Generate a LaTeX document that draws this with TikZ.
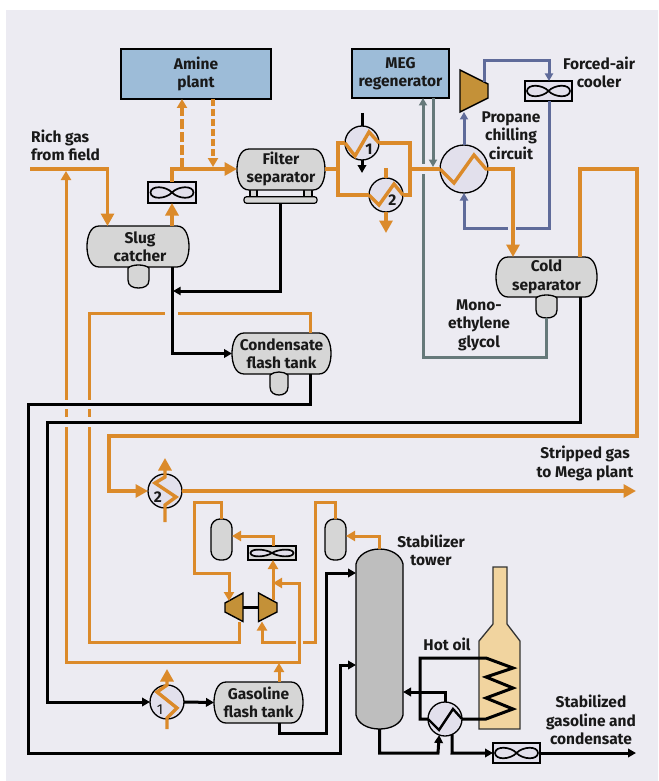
\documentclass[tikz,border=0pt]{standalone}
\usepackage{fontspec}
\setmainfont{Fira Sans}
\usetikzlibrary{arrows.meta,calc}
\definecolor{bgc}{HTML}{ECEBF2}
\definecolor{org}{HTML}{DB8A2A}
\definecolor{blu}{HTML}{5F6B9A}
\definecolor{gry}{HTML}{66797A}
\definecolor{box}{HTML}{9DBCD8}
\definecolor{ves}{HTML}{D6D6D6}
\definecolor{twr}{HTML}{BEBEBE}
\definecolor{hxf}{HTML}{E2E0EC}
\definecolor{cmp}{HTML}{C49138}
\definecolor{fur}{HTML}{F1D49F}
\tikzset{
 lbl/.style={font=\bfseries\fontsize{15.5}{18.5}\selectfont,align=center,text=black!90,inner sep=0pt},
 plantbox/.style={draw=black,line width=1.4pt,fill=box,inner sep=0pt,outer sep=0pt,lbl},
 vnode/.style={inner sep=0pt,outer sep=0pt,lbl},
 outl/.style={draw=black,line width=1.3pt,fill=ves},
 hx/.style={circle,draw=black,line width=1.3pt,fill=hxf,inner sep=0pt,outer sep=0pt,minimum size=34pt},
 bighx/.style={hx,minimum size=48pt},
 fanbox/.style={draw=black,line width=1.3pt,fill=ves,inner sep=0pt,outer sep=0pt},
 oL/.style={draw=org,line width=3.4pt,miter limit=10},
 oM/.style={draw=org,line width=3pt},
 kL/.style={draw=black,line width=3pt},
 bL/.style={draw=blu,line width=3pt},
 gL/.style={draw=gry,line width=3pt},
 tipL/.style={-{Triangle[length=12.5pt,width=13pt]}},
 tipM/.style={-{Triangle[length=9pt,width=10pt]}},
 tipS/.style={-{Triangle[length=7.5pt,width=8pt]}},
 tipK/.style={-{Triangle[length=8pt,width=8.5pt]}},
 gapf/.style={fill=bgc,draw=none},
}
\newcommand\tankbody[4]{% x0 y0 x1 y1
 \draw[outl] ({#1+12},#2) -- ({#3-12},#2)
  .. controls ({#3-3},#2) and (#3,{(#2+#4)/2-9}) .. (#3,{(#2+#4)/2})
  .. controls (#3,{(#2+#4)/2+9}) and ({#3-3},#4) .. ({#3-12},#4)
  -- ({#1+12},#4)
  .. controls ({#1+3},#4) and (#1,{(#2+#4)/2+9}) .. (#1,{(#2+#4)/2})
  .. controls (#1,{(#2+#4)/2-9}) and ({#1+3},#2) .. ({#1+12},#2) -- cycle;}
\newcommand\bootshape[4]{% x0 y0 x1 y1
 \draw[outl] (#1,{#2+3}) .. controls ({#1+4},{#2-1}) and ({#3-4},{#2-1}) .. (#3,{#2+3})
  -- (#3,{#4-8}) .. controls (#3,{#4-2}) and ({#3-5},#4) .. ({(#1+#3)/2},#4)
  .. controls ({#1+5},#4) and (#1,{#4-2}) .. (#1,{#4-8}) -- cycle;}
\newcommand\fanfig[3]{% cx cy halfheight-of-lobe
 \draw[draw=black,line width=1.7pt,fill=hxf]
  (#1,#2) .. controls ({#1-6},{#2-#3}) and ({#1-21},{#2-#3-1}) .. ({#1-21.5},#2)
  .. controls ({#1-21},{#2+#3+1}) and ({#1-6},{#2+#3}) .. (#1,#2)
  .. controls ({#1+6},{#2-#3}) and ({#1+21},{#2-#3-1}) .. ({#1+21.5},#2)
  .. controls ({#1+21},{#2+#3+1}) and ({#1+6},{#2+#3}) .. (#1,#2) -- cycle;}
\begin{document}
\begin{tikzpicture}[x=1pt,y=-1pt]
\useasboundingbox (0,0) rectangle (658,781);
\fill[white] (0,0) rectangle (658,781);
\fill[bgc] (6,10) rectangle (658,781);

% --- plant boxes
\node[plantbox,minimum width=150pt,minimum height=50pt] (amine) at (196,74) {Amine\\plant};
\node[plantbox,minimum width=97pt,minimum height=49pt] (meg) at (400.5,73.5) {MEG\\regenerator};

% --- vessels
\tankbody{87}{226}{189}{267}
\bootshape{128}{265}{149}{288}
\node[vnode,minimum width=98pt,minimum height=41pt] (slug) at (140,246.5) {Slug\\catcher};

\draw[outl,line width=1.2pt] (250,189) rectangle (257,198);
\draw[outl,line width=1.2pt] (304,189) rectangle (312,198);
\node[draw=black,line width=1.2pt,fill=ves,rounded corners=2.5pt,inner sep=0pt,outer sep=0pt,minimum width=73pt,minimum height=6.5pt] (fbase) at (280.5,200) {};
\tankbody{237}{149}{325}{190}
\node[vnode,minimum width=88pt,minimum height=41pt] (filt) at (281,169) {Filter\\separator};

\tankbody{232}{333}{331}{374}
\bootshape{270}{372}{288}{395}
\node[vnode,minimum width=99pt,minimum height=41pt] (cond) at (281.5,353.5) {Condensate\\flash tank};

\tankbody{496}{257}{597}{297}
\bootshape{536}{295}{557}{318}
\node[vnode,minimum width=101pt,minimum height=40pt] (cold) at (546.5,277) {Cold\\separator};
\coordinate (coldboot) at (546.5,318);

\tankbody{214}{682}{303}{723}
\node[vnode,minimum width=89pt,minimum height=41pt] (gast) at (258.5,702.5) {Gasoline\\flash tank};

\node[outl,rounded corners=9pt,inner sep=0pt,outer sep=0pt,minimum width=21pt,minimum height=41pt] (vesl) at (221.5,539.5) {};
\node[outl,rounded corners=9pt,inner sep=0pt,outer sep=0pt,minimum width=21pt,minimum height=41pt] (vesr) at (335.5,539.5) {};

% --- stabilizer tower
\draw[draw=black,line width=1.3pt,fill=twr] (356,564) .. controls (358,555) and (368,549) .. (379.5,549)
  .. controls (391,549) and (401,555) .. (403,564) -- (403,715)
  .. controls (401,724) and (391,729) .. (379.5,729)
  .. controls (368,729) and (358,724) .. (356,715) -- cycle;
\node[inner sep=0pt,outer sep=0pt,minimum width=47pt,minimum height=180pt] (tower) at (379.5,639) {};

% --- furnace
\draw[draw=black!80,line width=1.3pt,fill=fur] (493,567) -- (507,567) -- (507,624) -- (520,641) -- (520,729) -- (479,729) -- (479,641) -- (493,624) -- cycle;
\node[inner sep=0pt,outer sep=0pt,minimum width=41pt,minimum height=162pt] (furn) at (499.5,648) {};

% --- compressor and expanders
\draw[draw=black,line width=1.4pt,fill=cmp] (460,70) -- (488,84) -- (488,98) -- (460,112) -- cycle;
\node[inner sep=0pt,outer sep=0pt,minimum width=28pt,minimum height=42pt] (comp) at (474,91) {};
\draw[draw=black,line width=1.4pt,fill=cmp] (243,593) -- (225,603) -- (225,612) -- (243,621.5) -- cycle;
\node[inner sep=0pt,outer sep=0pt,minimum width=18pt,minimum height=28.5pt] (expl) at (234,607.25) {};
\draw[draw=black,line width=1.4pt,fill=cmp] (258.5,593) -- (277,603) -- (277,612) -- (258.5,621.5) -- cycle;
\node[inner sep=0pt,outer sep=0pt,minimum width=18.5pt,minimum height=28.5pt] (expr) at (267.75,607.25) {};
\draw[kL] (expl.east) -- (expr.west);

% --- fans
\node[fanbox,fill=hxf,minimum width=48pt,minimum height=21pt] (fana) at (172,192.5) {};
\fanfig{172}{192.5}{6.5}
\node[fanbox,fill=hxf,minimum width=47pt,minimum height=20pt] (fanb) at (548.5,91) {};
\fanfig{548.5}{91}{6.5}
\node[fanbox,minimum width=48pt,minimum height=14pt] (fanc) at (272,553) {};
\fanfig{272}{553}{4}
\node[fanbox,fill=hxf,minimum width=47pt,minimum height=20pt] (fand) at (516.5,753) {};
\fanfig{516.5}{753}{6.5}

% --- exchangers
\node[hx] (hxa) at (362,143) {};
\node[hx] (hxb) at (386,195) {};
\node[bighx] (hxm) at (464,169) {};
\node[hx] (hxc) at (165,491) {};
\node[hx] (hxd) at (167,702) {};
\node[hx] (hxe) at (445,719) {};

% --- free ends
\coordinate (richin) at (30,169);
\coordinate (gasout) at (636,491);
\coordinate (condout) at (636,753);
\coordinate (hxatop) at (362,113);
\coordinate (hxbtop) at (386,168);
\coordinate (hxabot) at (362,173);
\coordinate (hxbbot) at (386,233);
\coordinate (joinr) at (273,583);
\coordinate (compout) at (484,82);
\coordinate (expin) at (229,601);
\coordinate (expout) at (273,600);

% --- propane circuit
\draw[bL,tipS] (hxm.north) -- (464,0 |- comp.south);
\draw[bL,tipS] (compout) -- (484,61) -- (549,61) -- (549,0 |- fanb.north);
\draw[bL,tipS] (549,0 |- fanb.south) -- (549,228) -- (464,228) -- (hxm.south);
% --- glycol
\draw[gL,tipS] (coldboot) -- (546.5,357) -- (423,357) -- (423,0 |- meg.south);
\draw[gL,tipS] (433,0 |- meg.south) -- (433,167);
\fill[gapf] (418,164) rectangle (428,174);
\fill[gapf] (508.3,222) rectangle (515.7,234);

% --- main gas
\draw[oL,tipL] (richin) -- (107.5,169) -- (107.5,0 |- slug.north);
\draw[oL,tipL] (172,0 |- slug.north) -- (172,0 |- fana.south);
\draw[oL,tipL] (172,0 |- fana.north) |- (filt.west);
\draw[oL,dash pattern=on 10pt off 3pt,tipM] (182,168) -- (182,0 |- amine.south);
\draw[oL,dash pattern=on 7pt off 3pt,tipM] (213,0 |- amine.south) -- (213,167);
\draw[oL] (filt.east) -- (338,169);
\draw[oL] (hxa.west) -- (338,143) -- (338,195) -- (hxb.west);
\draw[oL] (hxa.east) -- (410,143) -- (410,195) -- (hxb.east);
\draw[oL] (410,169) -- (hxm.west);
\draw[oL] (hxa.west) -- (355,156) -- (369,132) -- (hxa.east);
\draw[oL] (hxb.west) -- (379,205) -- (394,184) -- (hxb.east);
\draw[oL] (hxbtop) -- (hxb.north);
\draw[oL,tipL] (hxb.south) -- (hxbbot);
\draw[oL] (hxm.west) -- (454,183) -- (474,155) -- (486,169) -- (hxm.east);
\draw[oL,tipL] (hxm.east) -- (513,169) -- (513,0 |- cold.north);
\draw[oL,tipL] (580,0 |- cold.north) -- (580,169) -- (637,169) -- (637,436) -- (109,436) -- (109,491) -- (hxc.west);
\draw[oL,tipL] (hxc.east) -- (gasout);
\draw[oL,tipL] (165,522) -- (165,505) -- (176,497) -- (155,483) -- (165,477) -- (165,458);
\draw[oL,tipL] (167,729) -- (167,718) -- (177,708) -- (157,692) -- (167,685) -- (167,669);

% --- overheads
\draw[oM] (310,0 |- cond.north) -- (310,313) -- (89,313) -- (89,642) -- (239,642) -- (239,0 |- expl.south);
\draw[oM,tipM] (vesl.north) -- (221.5,502) -- (194,502) -- (194,573) -- (229,573) -- (expin);
\draw[oM,tipM] (vesr.north) -- (335.5,502) -- (315,502) -- (315,642) -- (262,642) -- (262,0 |- expr.south);
\draw[oM,tipM] (expout) -- (273,0 |- fanc.south);
\draw[oM,tipM] (273,0 |- fanc.north) -- (273,536) -- (vesl.east |- 0,536);
\draw[oM,tipM] (tower.north) -- (379.5,536) -- (vesr.east |- 0,536);
\fill[gapf] (296,638) rectangle (303,646);
\draw[oM,{Triangle[length=9pt,width=10pt]}-{Triangle[length=9pt,width=10pt]}] (joinr) -- (299,583) -- (299,662) -- (66,662) -- (66,171);
\draw[oM,tipM] (279,0 |- gast.north) -- (279,663);

% --- gaps where orange passes under black
\fill[gapf] (165,308) rectangle (178,318);
\fill[gapf] (61,400) rectangle (94,409);
\fill[gapf] (61,417) rectangle (94,427);

% --- liquids
\draw[kL,tipK] (172.5,0 |- slug.south) -- (172.5,353.5) -- (cond.west);
\draw[kL,tipS] (fbase.south) -- (280.5,291) -- (173,291);
\draw[kL,tipK] (580,0 |- cold.south) -- (580,422) -- (47,422) -- (47,702) -- (hxd.west);
\draw[kL,tipK] (hxd.east) -- (gast.west);
\draw[kL,tipK] (310,0 |- cond.south) -- (310,404) -- (28,404) -- (28,753) -- (340,753) -- (340,665) -- (tower.west |- 0,665);
\draw[kL,tipK] (279,0 |- gast.south) -- (279,733) -- (326,733) -- (326,573) -- (tower.west |- 0,573);
\draw[kL,tipK] (tower.south) -- (379.5,753) -- (438,753) -- (hxe.-110);
\draw[kL,tipK] (hxe.north) -- (445,692) -- (tower.east |- 0,692);
\draw[kL,tipK] (hxe.-65) -- (452,753) -- (fand.west);
\draw[kL,tipK] (fand.east) -- (condout);
\draw[kL] (hxatop) -- (hxa.north);
\draw[kL,tipK] (hxa.south) -- (hxabot);
\draw[kL] (hxe.east) -- (486,719) -- (513,709) -- (486,698) -- (513,688) -- (486,677) -- (513,668) -- (486,658) -- (420,658) -- (420,719) -- (hxe.west);
\draw[kL,line width=2.4pt] (hxe.west) -- (439,730) -- (453,709) -- (hxe.east);

% --- exchanger numbers
\node[lbl] (na) at (369,149.5) {1};
\node[lbl] (nb) at (392.5,200) {2};
\node[lbl] (nc) at (158,497.5) {2};
\node[lbl,font=\fontsize{14.5}{18}\selectfont] (nd) at (160,710) {1};

% --- labels
\node[lbl,align=left,anchor=west] (trich) at (31,145.5) {Rich gas\\from field};
\node[lbl] (tcool) at (599,72.5) {Forced-air\\cooler};
\node[lbl] (tprop) at (511,135.5) {Propane\\chilling\\circuit};
\node[lbl] (tmono) at (479,325) {Mono-\\ethylene\\glycol};
\node[lbl] (tstrip) at (585,463.5) {Stripped gas\\to Mega plant};
\node[lbl] (tstab) at (431,550.5) {Stabilizer\\tower};
\node[lbl] (thot) at (447,644) {Hot oil};
\node[lbl] (tprod) at (591,720) {Stabilized\\gasoline and\\condensate};
\end{tikzpicture}
\end{document}
